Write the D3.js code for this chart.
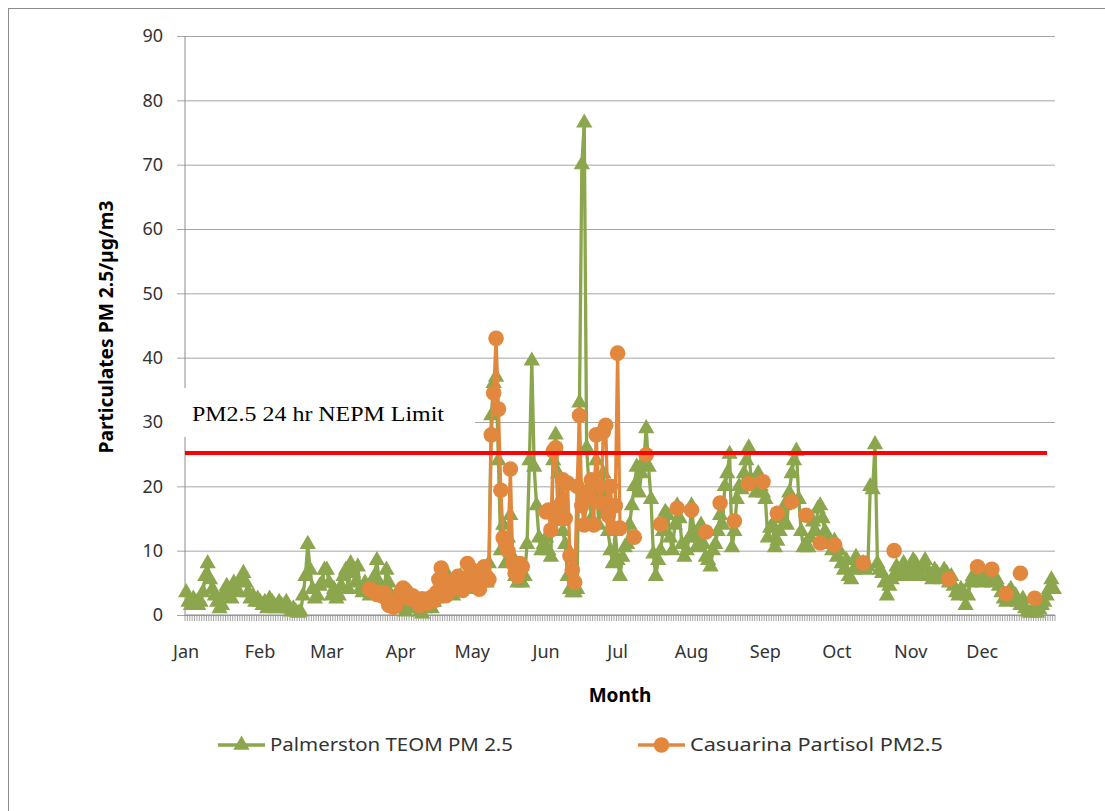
<!DOCTYPE html>
<html lang="en">
<head>
<meta charset="UTF-8">
<script src="https://d3js.org/d3.v7.min.js"></script>
<title>PM2.5 Palmerston / Casuarina</title>
<style>
  body { margin: 0; background: #fff; }
  svg { display: block; }
</style>
</head>
<body>
<svg width="1105" height="811"></svg>
<script>
  // month labels and the day each month starts on
  const months = ["Jan", "Feb", "Mar", "Apr", "May", "Jun", "Jul", "Aug", "Sep", "Oct", "Nov", "Dec"]
  const monthStart = [0, 31, 59, 90, 120, 151, 181, 212, 243, 273, 304, 334]
  const yTicks = [0, 10, 20, 30, 40, 50, 60, 70, 80, 90]
  const limit = 25.2

  // Palmerston TEOM PM 2.5, one value per day
  const palmerston = [
    // Jan
    3.5, 2, 1.5, 2.5, 2, 1.5, 2, 3.5, 6, 8, 5.5, 4, 3, 2, 1, 1.5, 3.5, 4.5, 3, 2.5, 5, 4, 3.5, 5.5, 6.5, 5, 3.5, 2.5, 3, 2, 2.5,
    // Feb
    2, 1.5, 2, 1, 2.5, 2, 1.5, 1, 2, 1.5, 1, 2, 1, 0.5, 1, 0.5, 0.3, 0.5, 3, 6, 11, 7, 4, 2.5, 3, 4.5, 5, 7,
    // Mar
    7, 5, 3, 4, 2.5, 3, 4.5, 6, 7, 4, 8, 6.5, 5, 7.5, 4, 3.5, 5, 4, 3, 5, 6, 8.5, 5, 3.5, 4, 7, 5, 3, 2.5, 3, 2,
    // Apr
    1.5, 1, 0.5, 2, 1.5, 1, 2.5, 1.5, 0.5, 0.2, 1, 1.5, 2, 1, 2, 2.5, 3, 4, 3.5, 5, 6, 4, 3, 5, 4.5, 6, 4, 5.5, 6.5, 5,
    // May
    5, 4, 6, 5, 7, 6, 5, 8, 31, 36, 37, 24, 10, 14, 8, 12, 15.5, 9, 6, 5, 7, 5, 6, 11, 24, 39.5, 23, 17, 12, 10, 11,
    // Jun
    12, 10, 9, 24, 28, 22, 18, 13, 11, 6, 4, 3.5, 3.5, 4, 33, 70, 76.5, 26, 20, 15, 19, 24, 14, 18, 22, 16, 13, 10, 8, 13,
    // Jul
    8.5, 6, 9, 10.5, 11, 14, 17, 20, 23, 19, 22, 24, 29, 23, 18, 9.5, 6, 8.5, 10, 13, 16, 15.5, 12, 10, 14, 17, 15, 11, 9, 10, 12,
    // Aug
    17, 13, 10.5, 12, 14, 11, 9, 8.5, 7.5, 10, 11, 13, 15.5, 14, 20, 22, 25, 10.5, 13, 18, 20, 19.5, 22, 24, 26, 21, 20, 19, 22, 20, 19,
    // Sep
    18, 12, 13.5, 14, 10.5, 11.5, 13, 15, 17, 14, 19, 22, 24, 25.5, 18, 13, 10.5, 11, 10.5, 12, 14.5, 13, 16.5, 17, 15, 13, 12, 11, 10, 11.5,
    // Oct
    9, 10, 8, 7, 8.5, 6, 5.5, 7, 9, 8, 7.5, 8, 7, 7.5, 20, 19.5, 26.5, 8, 7, 6.5, 5, 3, 4.5, 5.5, 6, 7.5, 6, 7, 8, 7, 6,
    // Nov
    7, 8.5, 8, 6.5, 6, 7.5, 8.5, 7, 6, 5.5, 7, 6.5, 6, 5.5, 7, 6.5, 5, 6, 4.5, 3.5, 3, 4, 3.5, 1.5, 3, 5, 6, 6.5, 5.5, 6,
    // Dec
    5, 6, 5.5, 6.5, 5, 6, 5.5, 4.5, 3.5, 2.5, 2, 3.5, 4, 2.5, 3, 2, 1.5, 2.5, 1, 0.5, 0.3, 0.5, 1, 0.3, 0.8, 1.5, 2, 3, 4, 5.5, 4
  ]

  // Casuarina Partisol PM2.5: daily runs, then one sample every ~6 days
  const casRun1Start = 77
  const casRun1 = [
    4, 3.8, 3.5, 3.2, 3.5, 3, 3.5, 2.5, 1.5, 2,
    1.2, 1.5, 2.5, 3.5, 4.2, 3.8, 3, 2.5, 3, 2.3,
    2, 1.5, 2.5, 2.3, 1.8, 2.5, 2.8, 2.2, 3.5, 5.5,
    7.3, 5.4, 3, 3.5, 4.5, 5, 5.5, 6, 5, 3.8,
    4.5, 8, 6, 7, 5, 4.5, 4, 5.5, 7.5, 6,
    5.5, 28, 34.5, 43, 32, 19.4, 12, 11.2, 10, 22.7,
    8, 6.5, 6, 8, 7.5
  ]
  const casRun2Start = 151
  const casRun2 = [
    16, 16.3, 13.2, 25.5, 26, 15, 17, 21, 15, 20.5,
    9.2, 7, 5.1, 20, 31, 17, 14, 18, 19, 21,
    14, 28, 20, 17.4, 28.5, 29.5, 15.5, 20, 13.5, 17,
    40.7, 13.5
  ]
  const casSampleDays = [188, 193, 199, 206, 212, 218, 224, 230, 236, 242, 248, 254, 260, 266, 272, 284, 297, 320, 332, 338, 344, 350, 356]
  const casSampleValues = [12.1, 24.9, 14.1, 16.6, 16.3, 12.9, 17.4, 14.6, 20.4, 20.7, 15.8, 17.6, 15.5, 11.2, 10.9, 8.1, 10, 5.6, 7.5, 7.1, 3.3, 6.5, 2.6]

  const green = "#8BA64C"
  const orange = "#E2883E"
  const axisGrey = "#8C8C8C"

  const casuarina = new Array(365).fill(null)
  casRun1.forEach((v, i) => casuarina[casRun1Start + i] = v)
  casRun2.forEach((v, i) => casuarina[casRun2Start + i] = v)
  casSampleDays.forEach((d, i) => casuarina[d] = casSampleValues[i])

  const svg = d3.select("svg")
  const plot = { left: 185, right: 1055, top: 36, bottom: 615 }

  const xEdge = d3.scaleLinear().domain([0, 365]).range([plot.left, plot.right])
  const x = d => xEdge(d + 0.5)
  const y = d3.scaleLinear().domain([0, 90]).range([plot.bottom, plot.top])

  // outer frame
  svg.append("rect")
    .attr("x", 8.5).attr("y", 8.5).attr("width", 1110).attr("height", 820)
    .attr("fill", "none").attr("stroke", axisGrey).attr("stroke-width", 1)

  // gridlines + y axis
  const yAxis = svg.append("g")
    .attr("transform", `translate(${plot.left},0)`)
    .call(d3.axisLeft(y).tickValues(yTicks).tickSize(8).tickPadding(14))
  yAxis.select(".domain").remove()
  yAxis.selectAll(".tick line")
    .attr("x1", -8).attr("x2", plot.right - plot.left)
    .attr("stroke", "#A6A6A6")
  yAxis.selectAll(".tick text")
    .attr("font-family", "'Noto Sans', sans-serif").attr("font-size", 18).attr("fill", "#333")

  svg.append("line")
    .attr("x1", plot.left).attr("x2", plot.left).attr("y1", plot.top).attr("y2", plot.bottom)
    .attr("stroke", axisGrey)

  // x axis with one small tick per day
  svg.append("g")
    .selectAll("line")
    .data(d3.range(0, 366))
    .join("line")
    .attr("x1", d => xEdge(d)).attr("x2", d => xEdge(d))
    .attr("y1", plot.bottom).attr("y2", plot.bottom + 6)
    .attr("stroke", axisGrey).attr("stroke-width", 0.8)
  svg.append("line")
    .attr("x1", plot.left).attr("x2", plot.right).attr("y1", plot.bottom).attr("y2", plot.bottom)
    .attr("stroke", axisGrey)

  svg.append("g")
    .selectAll("text")
    .data(months)
    .join("text")
    .attr("x", (m, i) => x(monthStart[i]))
    .attr("y", 658)
    .attr("text-anchor", "middle")
    .attr("font-family", "'Noto Sans', sans-serif").attr("font-size", 18).attr("fill", "#333")
    .text(m => m)

  const line = d3.line()
    .defined(d => d.v != null)
    .x(d => x(d.day))
    .y(d => y(d.v))

  const tri = d3.symbol().type(d3.symbolTriangle).size(115)

  // Palmerston series
  const palm = palmerston.map((v, i) => ({ day: i, v }))
  svg.append("path")
    .datum(palm)
    .attr("d", line)
    .attr("fill", "none").attr("stroke", green).attr("stroke-width", 3.3).attr("stroke-linejoin", "round")
  svg.append("g")
    .selectAll("path")
    .data(palm)
    .join("path")
    .attr("d", tri)
    .attr("transform", d => `translate(${x(d.day)},${y(d.v)})`)
    .attr("fill", green)

  // Casuarina series
  const cas = casuarina.map((v, i) => ({ day: i, v }))
  svg.append("path")
    .datum(cas)
    .attr("d", line)
    .attr("fill", "none").attr("stroke", orange).attr("stroke-width", 3.3).attr("stroke-linejoin", "round")
  svg.append("g")
    .selectAll("circle")
    .data(cas.filter(d => d.v != null))
    .join("circle")
    .attr("cx", d => x(d.day))
    .attr("cy", d => y(d.v))
    .attr("r", 7.8)
    .attr("fill", orange)

  // NEPM limit line
  svg.append("line")
    .attr("x1", plot.left).attr("x2", 1047)
    .attr("y1", y(limit)).attr("y2", y(limit))
    .attr("stroke", "#FF0000").attr("stroke-width", 4)

  // label box
  svg.append("rect")
    .attr("x", 175).attr("y", 388).attr("width", 300).attr("height", 49)
    .attr("fill", "#fff")
  svg.append("text")
    .attr("x", 192).attr("y", 421)
    .attr("font-family", "'Liberation Serif', serif").attr("font-size", 20).attr("fill", "#000")
    .attr("textLength", 252).attr("lengthAdjust", "spacingAndGlyphs")
    .text("PM2.5 24 hr NEPM Limit")

  // axis titles
  svg.append("text")
    .attr("transform", "translate(113,327) rotate(-90)")
    .attr("text-anchor", "middle")
    .attr("font-family", "'Liberation Sans Narrow', 'Noto Sans', sans-serif").attr("font-weight", "bold").attr("font-size", 19)
    .attr("textLength", 253).attr("lengthAdjust", "spacingAndGlyphs")
    .text("Particulates PM 2.5/µg/m3")
  svg.append("text")
    .attr("x", 620).attr("y", 702)
    .attr("text-anchor", "middle")
    .attr("font-family", "'Noto Sans', sans-serif").attr("font-weight", "bold").attr("font-size", 19)
    .text("Month")

  // legend
  const legend = [
    { name: "Palmerston TEOM PM 2.5", color: green, shape: "tri", x0: 218, width: 243 },
    { name: "Casuarina Partisol PM2.5", color: orange, shape: "circle", x0: 638, width: 253 }
  ]
  const lg = svg.append("g").selectAll("g").data(legend).join("g")
    .attr("transform", d => `translate(${d.x0},745)`)
  lg.append("line")
    .attr("x1", 0).attr("x2", 47)
    .attr("stroke", d => d.color).attr("stroke-width", 3.3)
  lg.filter(d => d.shape === "tri").append("path")
    .attr("d", tri).attr("transform", "translate(23.5,0)").attr("fill", d => d.color)
  lg.filter(d => d.shape === "circle").append("circle")
    .attr("cx", 23.5).attr("r", 7.8).attr("fill", d => d.color)
  lg.append("text")
    .attr("x", 52).attr("y", 6)
    .attr("font-family", "'Noto Sans', sans-serif").attr("font-size", 18).attr("fill", "#333")
    .attr("textLength", d => d.width).attr("lengthAdjust", "spacingAndGlyphs")
    .text(d => d.name)
</script>
</body>
</html>
